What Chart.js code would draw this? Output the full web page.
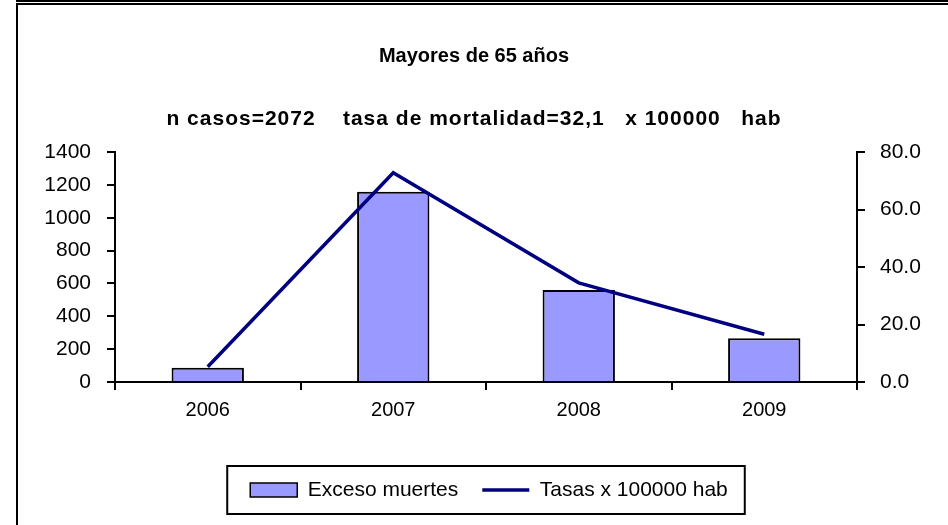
<!DOCTYPE html>
<html>
<head>
<meta charset="utf-8">
<script src="https://cdn.jsdelivr.net/npm/chart.js@4/dist/chart.umd.min.js"></script>
<style>
  html, body { margin: 0; padding: 0; background: #fff; }
  #wrap { position: relative; width: 948px; height: 525px; overflow: hidden; }
  #graph { position: absolute; left: 0; top: 0; }
  .line1 { position: absolute; left: 16px; top: 0; width: 940px; height: 2px; background: #000; }
  .line2 { position: absolute; left: 16px; top: 3px; width: 940px; height: 2px; background: #000; }
  .side { position: absolute; left: 16px; top: 3px; width: 2px; height: 530px; background: #000; }
</style>
</head>
<body>
<div id="wrap">
  <canvas id="graph" width="948" height="525"></canvas>
  <div class="line1"></div>
  <div class="line2"></div>
  <div class="side"></div>
</div>
<script>
var years = ["2006", "2007", "2008", "2009"];
var excesoMuertes = [87, 1158, 560, 267];
var tasas = [5.3, 72.8, 34.5, 16.6];
var leftTicks = [0, 200, 400, 600, 800, 1000, 1200, 1400];
var rightTicks = [0, 20, 40, 60, 80];

var g_font = "'Liberation Sans', Arial, sans-serif";
var g_subtitle = "n casos=2072    tasa de mortalidad=32,1   x 100000   hab";

// spaced subtitle, legend moved a bit right and boxed, as in the original sheet
var sheetLook = {
    id: "sheetLook",
    afterLayout: function (chart) {
        chart.legend.left += 30;
    },
    beforeDraw: function (chart) {
        chart.boxes.forEach(function (box) {
            if (box.options && box.options.text === g_subtitle && !box._spaced) {
                var orig = box.draw;
                box.draw = function () {
                    var c = this.ctx;
                    var prev = c.letterSpacing;
                    c.letterSpacing = "1px";
                    orig.apply(this, arguments);
                    c.letterSpacing = prev;
                };
                box._spaced = true;
            }
        });
    },
    afterDraw: function (chart) {
        var hb = chart.legend.legendHitBoxes;
        if (!hb || hb.length < 2) return;
        var last = hb[hb.length - 1];
        var left = hb[0].left - 23;
        var right = last.left + last.width + 17;
        var mid = hb[0].top + hb[0].height / 2;
        var ctx = chart.ctx;
        ctx.save();
        ctx.strokeStyle = "#000";
        ctx.lineWidth = 2;
        ctx.strokeRect(left, mid - 24, right - left, 48);
        ctx.restore();
    }
};

var ctx = document.getElementById("graph").getContext("2d");
var chart = new Chart(ctx, {
    type: "bar",
    data: {
        labels: years,
        datasets: [{
            type: "line",
            label: "Tasas x 100000 hab",
            data: tasas,
            yAxisID: "y1",
            borderColor: "#000080",
            backgroundColor: "#000080",
            borderWidth: 3.5,
            pointRadius: 0,
            tension: 0,
            order: 0
        }, {
            type: "bar",
            label: "Exceso muertes",
            data: excesoMuertes,
            yAxisID: "y",
            backgroundColor: "#9999ff",
            borderColor: "#000",
            borderWidth: 2,
            categoryPercentage: 1,
            barPercentage: 0.39,
            order: 1
        }]
    },
    options: {
        responsive: false,
        animation: false,
        layout: { padding: { top: 0, bottom: 14.5, left: 0, right: 0 } },
        plugins: {
            title: {
                display: true,
                text: "Mayores de 65 años",
                color: "#000",
                font: { family: g_font, size: 20, weight: "bold" },
                padding: { top: 44, bottom: 38.4 }
            },
            subtitle: {
                display: true,
                text: g_subtitle,
                color: "#000",
                font: { family: g_font, size: 21, weight: "bold" },
                padding: { top: 0, bottom: 20.4 }
            },
            legend: {
                position: "bottom",
                reverse: true,
                labels: {
                    color: "#000",
                    font: { family: g_font, size: 21 },
                    usePointStyle: true,
                    pointStyleWidth: 47,
                    boxHeight: 14,
                    padding: 24,
                    generateLabels: function (chart) {
                        var items = Chart.defaults.plugins.legend.labels.generateLabels(chart);
                        items.forEach(function (it) {
                            var ds = chart.data.datasets[it.datasetIndex];
                            it.pointStyle = ds.type === "line" ? "line" : "rect";
                            it.lineWidth = ds.type === "line" ? 3.5 : 1.5;
                            it.strokeStyle = ds.type === "line" ? "#000080" : "#000";
                        });
                        return items;
                    }
                }
            },
            tooltip: { enabled: false }
        },
        scales: {
            x: {
                grid: { display: true, drawOnChartArea: false, offset: true, tickLength: 8, color: "#000", lineWidth: 2 },
                border: { color: "#000", width: 2 },
                ticks: { color: "#000", font: { family: g_font, size: 20 }, padding: 8 },
                afterFit: function (scale) { scale.height = 73.5; }
            },
            y: {
                position: "left",
                min: 0,
                max: 1400,
                grid: { drawOnChartArea: false, tickLength: 8, color: "#000", lineWidth: 2 },
                border: { color: "#000", width: 2 },
                ticks: {
                    color: "#000",
                    font: { family: g_font, size: 21 },
                    padding: 16,
                    callback: function (v) { return String(v); }
                },
                afterBuildTicks: function (scale) {
                    scale.ticks = leftTicks.map(function (v) { return { value: v }; });
                },
                afterFit: function (scale) { scale.width = 115; }
            },
            y1: {
                position: "right",
                min: 0,
                max: 80,
                grid: { drawOnChartArea: false, tickLength: 8, color: "#000", lineWidth: 2 },
                border: { color: "#000", width: 2 },
                ticks: {
                    color: "#000",
                    font: { family: g_font, size: 21 },
                    padding: 15,
                    callback: function (v) { return v.toFixed(1); }
                },
                afterBuildTicks: function (scale) {
                    scale.ticks = rightTicks.map(function (v) { return { value: v }; });
                },
                afterFit: function (scale) { scale.width = 91; }
            }
        }
    },
    plugins: [sheetLook]
});
</script>
</body>
</html>
